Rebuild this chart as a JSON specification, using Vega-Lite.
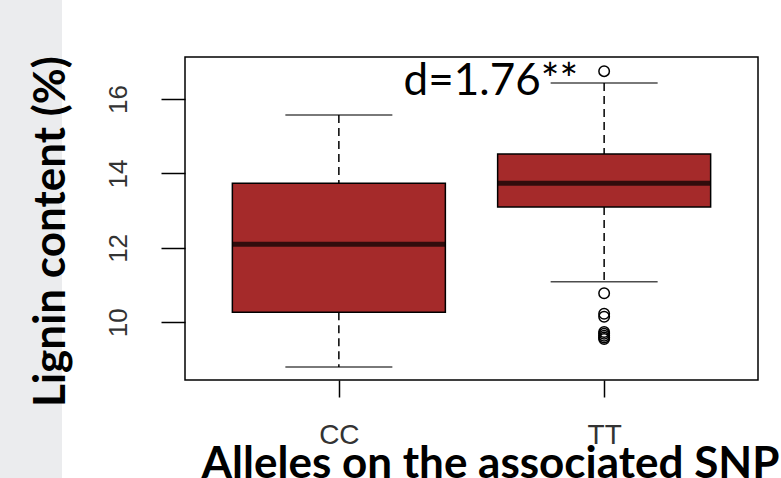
{
  "$schema": "https://vega.github.io/schema/vega-lite/v6.json",
  "padding": 0,
  "background": "white",
  "spacing": -34,
  "config": {
    "view": {"stroke": null},
    "font": "Liberation Sans",
    "axis": {"grid": false},
    "axisLeft": {
      "domain": false,
      "tickSize": 24,
      "tickWidth": 1.5,
      "tickColor": "black",
      "labelFont": "Liberation Sans",
      "labelFontSize": 26,
      "labelColor": "#333333",
      "labelAngle": 270,
      "labelAlign": "center",
      "labelBaseline": "alphabetic",
      "labelPadding": 35,
      "titleFont": "Lato",
      "titleFontWeight": "bold",
      "titleFontSize": 44,
      "titleColor": "black",
      "titleAngle": 270,
      "titleAlign": "center",
      "titleBaseline": "alphabetic",
      "titleX": -121,
      "titleY": 174
    },
    "axisBottom": {
      "domain": false,
      "tickSize": 17,
      "tickWidth": 1.5,
      "tickColor": "black",
      "labelFont": "Liberation Sans",
      "labelFontSize": 28,
      "labelColor": "#333333",
      "labelAngle": 0,
      "labelBaseline": "alphabetic",
      "labelPadding": 46,
      "titleFont": "Lato",
      "titleFontWeight": "bold",
      "titleFontSize": 44,
      "titleColor": "black",
      "titleAlign": "center",
      "titleBaseline": "alphabetic",
      "titleX": 305,
      "titleY": 97
    }
  },
  "datasets": {
    "stats": [
      {"allele": "CC", "lower": 8.80, "q1": 10.27, "median": 12.10, "q3": 13.74, "upper": 15.57},
      {"allele": "TT", "lower": 11.09, "q1": 13.10, "median": 13.74, "q3": 14.52, "upper": 16.43}
    ],
    "outliers": [
      {"allele": "TT", "value": 16.75},
      {"allele": "TT", "value": 10.78},
      {"allele": "TT", "value": 10.23},
      {"allele": "TT", "value": 10.15},
      {"allele": "TT", "value": 9.74},
      {"allele": "TT", "value": 9.69},
      {"allele": "TT", "value": 9.64},
      {"allele": "TT", "value": 9.59},
      {"allele": "TT", "value": 9.55}
    ],
    "note": [
      {"allele": "TT", "value": 16.1, "label": "d=1.76**"}
    ],
    "empty": []
  },
  "hconcat": [
    {
      "width": 62,
      "height": 478,
      "view": {"fill": "#ebecee", "stroke": null},
      "data": {"name": "empty"},
      "mark": "point"
    },
    {
      "spacing": 0,
      "vconcat": [
        {
          "width": 573,
          "height": 54,
          "view": {"stroke": null},
          "data": {"name": "empty"},
          "mark": "point"
        },
        {
          "width": 573,
          "height": 323,
          "view": {"stroke": "black", "strokeWidth": 1.5, "fill": "white"},
          "layer": [
            {
              "data": {"name": "stats"},
              "mark": {"type": "rule", "stroke": "black", "strokeWidth": 1.5, "strokeDash": [8, 5]},
              "encoding": {
                "x": {"field": "allele", "type": "nominal", "sort": ["CC", "TT"], "scale": {"type": "point", "padding": 0.58}, "title": "Alleles on the associated SNP"},
                "y": {"field": "upper", "type": "quantitative", "scale": {"domain": [8.45, 17.13], "nice": false, "zero": false}, "axis": {"values": [10, 12, 14, 16]}, "title": "Lignin content (%)"},
                "y2": {"field": "q3"}
              }
            },
            {
              "data": {"name": "stats"},
              "mark": {"type": "rule", "stroke": "black", "strokeWidth": 1.5, "strokeDash": [8, 5]},
              "encoding": {
                "x": {"field": "allele", "type": "nominal", "sort": ["CC", "TT"], "scale": {"type": "point", "padding": 0.58}, "title": "Alleles on the associated SNP"},
                "y": {"field": "q1", "type": "quantitative", "scale": {"domain": [8.45, 17.13], "nice": false, "zero": false}, "axis": {"values": [10, 12, 14, 16]}, "title": "Lignin content (%)"},
                "y2": {"field": "lower"}
              }
            },
            {
              "data": {"name": "stats"},
              "mark": {"type": "tick", "color": "black", "size": 107, "thickness": 1.6, "orient": "horizontal"},
              "encoding": {
                "x": {"field": "allele", "type": "nominal", "sort": ["CC", "TT"], "scale": {"type": "point", "padding": 0.58}, "title": "Alleles on the associated SNP"},
                "y": {"field": "upper", "type": "quantitative", "scale": {"domain": [8.45, 17.13], "nice": false, "zero": false}, "axis": {"values": [10, 12, 14, 16]}, "title": "Lignin content (%)"}
              }
            },
            {
              "data": {"name": "stats"},
              "mark": {"type": "tick", "color": "black", "size": 107, "thickness": 1.6, "orient": "horizontal"},
              "encoding": {
                "x": {"field": "allele", "type": "nominal", "sort": ["CC", "TT"], "scale": {"type": "point", "padding": 0.58}, "title": "Alleles on the associated SNP"},
                "y": {"field": "lower", "type": "quantitative", "scale": {"domain": [8.45, 17.13], "nice": false, "zero": false}, "axis": {"values": [10, 12, 14, 16]}, "title": "Lignin content (%)"}
              }
            },
            {
              "data": {"name": "stats"},
              "mark": {"type": "bar", "size": 213, "fill": "#a52a2a", "stroke": "black", "strokeWidth": 1.5},
              "encoding": {
                "x": {"field": "allele", "type": "nominal", "sort": ["CC", "TT"], "scale": {"type": "point", "padding": 0.58}, "title": "Alleles on the associated SNP"},
                "y": {"field": "q3", "type": "quantitative", "scale": {"domain": [8.45, 17.13], "nice": false, "zero": false}, "axis": {"values": [10, 12, 14, 16]}, "title": "Lignin content (%)"},
                "y2": {"field": "q1"}
              }
            },
            {
              "data": {"name": "stats"},
              "mark": {"type": "tick", "color": "black", "size": 213, "thickness": 5, "orient": "horizontal"},
              "encoding": {
                "x": {"field": "allele", "type": "nominal", "sort": ["CC", "TT"], "scale": {"type": "point", "padding": 0.58}, "title": "Alleles on the associated SNP"},
                "y": {"field": "median", "type": "quantitative", "scale": {"domain": [8.45, 17.13], "nice": false, "zero": false}, "axis": {"values": [10, 12, 14, 16]}, "title": "Lignin content (%)"}
              }
            },
            {
              "data": {"name": "outliers"},
              "mark": {"type": "point", "shape": "circle", "filled": false, "stroke": "black", "strokeWidth": 1.5, "size": 110, "opacity": 1},
              "encoding": {
                "x": {"field": "allele", "type": "nominal", "sort": ["CC", "TT"], "scale": {"type": "point", "padding": 0.58}, "title": "Alleles on the associated SNP"},
                "y": {"field": "value", "type": "quantitative", "scale": {"domain": [8.45, 17.13], "nice": false, "zero": false}, "axis": {"values": [10, 12, 14, 16]}, "title": "Lignin content (%)"}
              }
            },
            {
              "data": {"name": "note"},
              "mark": {"type": "text", "font": "Lato", "fontSize": 44, "color": "black", "align": "right", "baseline": "alphabetic", "dx": -26},
              "encoding": {
                "x": {"field": "allele", "type": "nominal", "sort": ["CC", "TT"], "scale": {"type": "point", "padding": 0.58}, "title": "Alleles on the associated SNP"},
                "y": {"field": "value", "type": "quantitative", "scale": {"domain": [8.45, 17.13], "nice": false, "zero": false}, "axis": {"values": [10, 12, 14, 16]}, "title": "Lignin content (%)"},
                "text": {"field": "label"}
              }
            }
          ]
        }
      ]
    }
  ]
}
